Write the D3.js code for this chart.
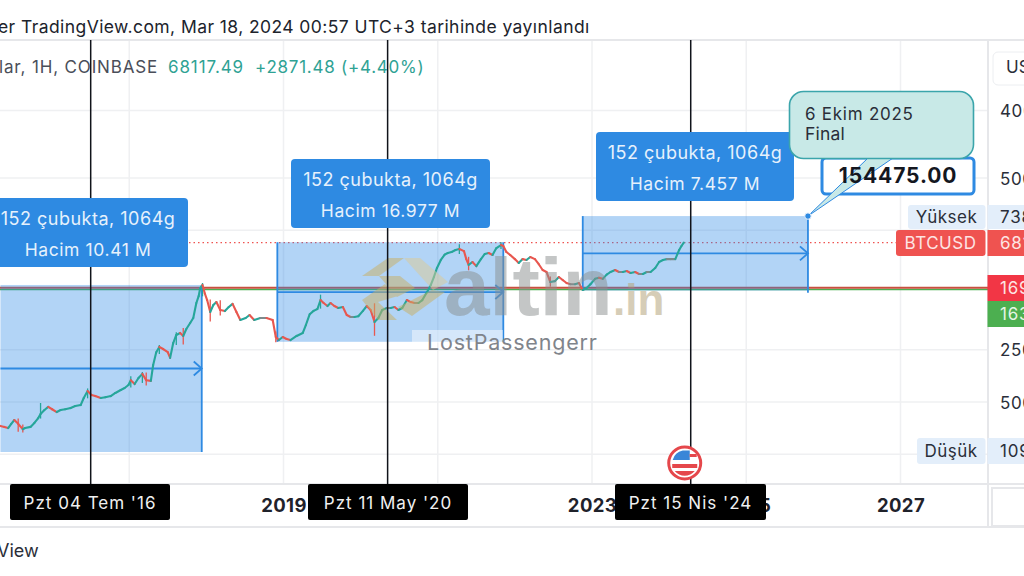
<!DOCTYPE html>
<html><head><meta charset="utf-8">
<script src="https://cdnjs.cloudflare.com/ajax/libs/d3/7.8.5/d3.min.js"></script>
<style>html,body{margin:0;padding:0;background:#fff;overflow:hidden}svg{display:block}text{font-family:Inter,"Open Sans",sans-serif}</style>
</head><body><svg id="c" width="1024" height="576"></svg>
<script>
const candleYears=[2015.33,2015.38,2015.43,2015.47,2015.51,2015.56,2015.62,2015.65,2015.72,2015.77,2015.82,2015.85,2015.90,2015.95,2016.00,2016.06,2016.11,2016.17,2016.24,2016.30,2016.37,2016.41,2016.46,2016.51,2016.56,2016.63,2016.69,2016.76,2016.82,2016.89,2016.94,2016.99,2017.02,2017.07,2017.12,2017.17,2017.22,2017.28,2017.31,2017.35,2017.39,2017.44,2017.50,2017.53,2017.57,2017.61,2017.66,2017.70,2017.74,2017.79,2017.83,2017.87,2017.90,2017.92,2017.95,2017.98,2018.01,2018.05,2018.09,2018.13,2018.18,2018.24,2018.29,2018.34,2018.39,2018.44,2018.51,2018.56,2018.62,2018.70,2018.78,2018.86,2018.90,2018.94,2018.99,2019.04,2019.09,2019.17,2019.25,2019.29,2019.34,2019.39,2019.44,2019.48,2019.52,2019.57,2019.61,2019.66,2019.71,2019.77,2019.82,2019.87,2019.92,2019.97,2020.03,2020.08,2020.13,2020.18,2020.23,2020.28,2020.34,2020.39,2020.44,2020.49,2020.54,2020.60,2020.65,2020.70,2020.75,2020.80,2020.86,2020.91,2020.95,2020.99,2021.04,2021.09,2021.13,2021.18,2021.23,2021.28,2021.34,2021.37,2021.40,2021.45,2021.50,2021.56,2021.61,2021.66,2021.71,2021.76,2021.82,2021.85,2021.89,2021.94,2022.00,2022.05,2022.10,2022.15,2022.20,2022.26,2022.31,2022.36,2022.41,2022.46,2022.52,2022.57,2022.62,2022.67,2022.72,2022.78,2022.83,2022.88,2022.93,2022.98,2023.04,2023.09,2023.14,2023.19,2023.24,2023.30,2023.35,2023.40,2023.45,2023.50,2023.56,2023.61,2023.66,2023.71,2023.76,2023.82,2023.87,2023.92,2023.97,2024.02,2024.08,2024.13,2024.16,2024.19];
const candleClose=[239,232,224,255,287,255,216,224,232,262,305,345,390,430,400,367,390,400,415,442,455,565,700,620,600,565,580,600,660,724,770,845,980,870,1050,1190,980,960,1565,2320,2730,2560,2320,1950,3080,3950,4200,3830,4750,5715,6670,10590,13100,16800,18460,14200,11600,8020,9950,10900,8530,8270,9360,10300,8020,6270,6670,7310,6270,6670,6670,6270,3710,3380,3710,3490,3380,3830,4200,5370,7500,8300,8800,11600,10590,9650,10590,9650,9070,9360,7310,6875,6875,7050,8300,9650,8530,5900,6670,8530,9070,9070,9360,8530,9070,11600,10900,10590,10590,11600,14800,18460,23600,31200,39900,47000,49500,51000,54250,56000,52500,41000,34400,37500,33000,41000,48000,49500,46500,57700,63300,61400,51000,46500,41000,36350,41000,39900,43700,41000,35000,29300,27550,20200,20800,23600,21500,19600,18900,18900,19600,15800,16800,18900,22300,23000,22300,25400,27550,29300,27550,27550,28400,26700,27550,25900,25900,27550,27550,31200,37500,39900,41000,41000,41000,54250,61400,68117];
const wickYears=[2015.56,2015.62,2015.85,2016.46,2017.02,2017.17,2017.22,2017.39,2017.61,2017.70,2017.95,2018.05,2018.18,2018.90,2019.48,2020.18,2021.28,2021.40,2021.82,2022.46];
const wickHigh=[300,250,485,760,1110,1260,1240,2900,4300,4900,19600,11800,11500,4400,13700,10500,64700,44000,68900,24000];
const wickLow=[200,195,300,560,780,900,830,2200,2900,2950,13000,6000,7200,3150,8900,3850,48000,29000,56000,17500];
const boxYears=[[2015.33,2017.94],[2018.92,2021.85],[2022.88,2025.80]];
const boxTop=[18460,68900,154475];
const boxBottom=[107,3200,15500];
const boxLabels=[["152 çubukta, 1064g","Hacim 10.41 M"],["152 çubukta, 1064g","Hacim 16.977 M"],["152 çubukta, 1064g","Hacim 7.457 M"]];
const crossYears=[2016.50,2020.35,2024.28];
const crossLabels=["Pzt 04 Tem '16","Pzt 11 May '20","Pzt 15 Nis '24"];
const gridYears=[2017,2019,2021,2023,2025,2027];
const yearTicks=[2019,2023,2025,2027];
const priceGrid=[4000000,500000,100000,2500,500,100];
const priceTicks=[4000000,500000,2500,500];
const lastPrice=68117.49, highPrice=73835, lowPrice=109, redLevel=16900, greenLevel=16300, targetPrice=154475;

const x=d3.scaleLinear().domain([2019,2027]).range([283.5,900.5]);
const y=d3.scaleLog().domain([500,500000]).range([402,178]);
const svg=d3.select("#c");
const blue="#2e8ae2";
const T=(s,px,py,o={})=>svg.append("text").attr("x",px).attr("y",py).attr("text-anchor",o.a||"start")
 .attr("font-size",o.s||17).attr("font-weight",o.w||400).attr("fill",o.f||"#2a2e39").attr("letter-spacing",o.l||0).attr("dominant-baseline","central").text(s);

// frame + grid
svg.append("g").selectAll("line").data(priceGrid).join("line").attr("x1",0).attr("x2",988).attr("y1",d=>y(d)).attr("y2",d=>y(d)).attr("stroke","#eff0f2").attr("stroke-width",1.5);
svg.append("g").selectAll("line").data(gridYears).join("line").attr("x1",d=>x(d)).attr("x2",d=>x(d)).attr("y1",40).attr("y2",484).attr("stroke","#eff0f2").attr("stroke-width",1.5);
[[0,40,1024,40],[0,484,1024,484],[0,527,1024,527],[988,40,988,527]].forEach(l=>svg.append("line").attr("x1",l[0]).attr("y1",l[1]).attr("x2",l[2]).attr("y2",l[3]).attr("stroke","#e6e7ea").attr("stroke-width",2));
svg.append("rect").attr("x",993).attr("y",52).attr("width",50).attr("height",33).attr("rx",5).attr("fill","#fff").attr("stroke","#eceef1");
svg.append("rect").attr("x",992).attr("y",488).attr("width",50).attr("height",38).attr("fill","#fff").attr("stroke","#e6e7ea").attr("stroke-width",2);

// levels
svg.append("line").attr("x1",0).attr("x2",988).attr("y1",y(greenLevel)+.6).attr("y2",y(greenLevel)+.6).attr("stroke","#4caf50").attr("stroke-width",1.5);
svg.append("line").attr("x1",0).attr("x2",988).attr("y1",y(redLevel)).attr("y2",y(redLevel)).attr("stroke","#c8503f").attr("stroke-width",2);
svg.append("line").attr("x1",0).attr("x2",896).attr("y1",y(lastPrice)).attr("y2",y(lastPrice)).attr("stroke","#ef5350").attr("stroke-width",1.2).attr("stroke-dasharray","1.5 3");

// boxes
boxYears.forEach((b,i)=>{
 const x0=x(b[0]),x1=x(b[1]),t=y(boxTop[i]),bt=y(boxBottom[i]),m=(t+bt)/2;
 svg.append("rect").attr("x",x0).attr("y",t).attr("width",x1-x0).attr("height",bt-t).attr("fill","rgba(41,136,230,.36)");
 svg.append("line").attr("x1",x0).attr("x2",x1).attr("y1",m).attr("y2",m).attr("stroke",blue).attr("stroke-width",1.8);
 svg.append("path").attr("d",`M${x1-8},${m-7}L${x1},${m}L${x1-8},${m+7}`).attr("fill","none").attr("stroke",blue).attr("stroke-width",1.8);
 svg.append("line").attr("x1",x1).attr("x2",x1).attr("y1",t).attr("y2",bt+ (i==2?2:0)).attr("stroke",blue).attr("stroke-width",1.8);
 if(i>0)svg.append("line").attr("x1",x0).attr("x2",x0).attr("y1",t).attr("y2",bt).attr("stroke",blue).attr("stroke-width",1.8);
});

// candles
const up="#26a69a",dn="#e8574f",flat="#7d8a8c";
const colorAt=yr=>{const i=candleYears.indexOf(yr);return i>0&&candleClose[i]<candleClose[i-1]?dn:up;};
svg.append("g").selectAll("line").data(wickYears).join("line").attr("x1",d=>x(d)).attr("x2",d=>x(d))
 .attr("y1",(d,i)=>y(wickHigh[i])).attr("y2",(d,i)=>y(wickLow[i])).attr("stroke",d=>colorAt(d)).attr("stroke-width",1.3);
svg.append("g").selectAll("line").data(candleClose.slice(1)).join("line")
 .attr("x1",(d,i)=>x(candleYears[i])).attr("x2",(d,i)=>x(candleYears[i+1]))
 .attr("y1",(d,i)=>y(candleClose[i])).attr("y2",d=>y(d))
 .attr("stroke-linecap","round").attr("stroke-width",2.1)
 .attr("stroke",(d,i)=>{const r=d/candleClose[i];return r>1.015?up:(r<.985?dn:flat);});

// watermark
const wm=svg.append("g").attr("opacity",.5);
wm.append("path").attr("d","M362,276L388,258L404,258L379,276Z M379,276L400,276L415,288L397,297Z").attr("fill","#c9b063");
wm.append("path").attr("d","M404,258L420,258L448,282L433,290Z").attr("fill","#dccb96");
wm.append("path").attr("d","M362,300L385,284L398,296L378,302L397,320L378,320Z M398,307L432,290L445,292L412,316Z").attr("fill","#c9b063");
svg.append("text").attr("x",444).attr("y",315).attr("font-size",82).attr("font-weight",700).attr("fill","#8a8f8f").attr("opacity",.5).style("font-family","Liberation Sans").text("altin");
svg.append("text").attr("x",613).attr("y",315).attr("font-size",44).attr("font-weight",700).attr("fill","#b6a67e").attr("opacity",.55).style("font-family","Liberation Sans").text(".in");
svg.append("rect").attr("x",412).attr("y",330).attr("width",91).attr("height",13).attr("fill","#fff").attr("opacity",.45);
T("LostPassengerr",427,342,{s:21.5,f:"#80848b",l:.8});

// date crosshairs
crossYears.forEach(c=>svg.append("line").attr("x1",x(c)).attr("x2",x(c)).attr("y1",40).attr("y2",484).attr("stroke","#10131a").attr("stroke-width",1.5));

// volume tags
const tagX=[-12,291,596],tagW=[200,199,198],tagY=[198,159,132];
boxLabels.forEach((l,i)=>{
 svg.append("rect").attr("x",tagX[i]).attr("y",tagY[i]).attr("width",tagW[i]).attr("height",69).attr("rx",4).attr("fill",blue);
 T(l[0],tagX[i]+tagW[i]/2,tagY[i]+20,{a:"middle",f:"#e6f1fc",s:18,l:.5});
 T(l[1],tagX[i]+tagW[i]/2,tagY[i]+51,{a:"middle",f:"#e6f1fc",s:17.5,l:.6});
});

// target callout
svg.append("rect").attr("x",822).attr("y",158).attr("width",152).attr("height",36).attr("rx",4).attr("fill","#fff").attr("stroke",blue).attr("stroke-width",3);
svg.append("path").attr("d",`M${x(2025.80)},${y(targetPrice)}L868,158L893,158Z`).attr("fill","#c8e9e7").attr("stroke",blue).attr("stroke-width",1);
svg.append("rect").attr("x",789.5).attr("y",91.5).attr("width",184).attr("height",67).attr("rx",14).attr("fill","#c8e9e7").attr("stroke","#3ba5ab").attr("stroke-width",1.6);
T("6 Ekim 2025",805,114,{s:17,l:.75});
T("Final",805,133,{s:17.5,l:.2});
T(targetPrice.toFixed(2),898,175,{a:"middle",s:21,w:700,f:"#14171f",l:.9});
svg.append("circle").attr("cx",x(2025.80)).attr("cy",y(targetPrice)).attr("r",3.2).attr("fill",blue).attr("stroke","#e6f1fc");

// flag
const fx=x(crossYears[2])-6,fy=463;
svg.append("circle").attr("cx",fx).attr("cy",fy).attr("r",16).attr("fill","#fff").attr("stroke","#e5474b").attr("stroke-width",3);
svg.append("path").attr("d",`M${fx-12},${fy-3}A13,13 0 0 1 ${fx-2},${fy-12.5}L${fx+5},${fy-12.5}L${fx+5},${fy-3}Z`).attr("fill","#3a86d8");
svg.append("rect").attr("x",fx+5).attr("y",fy-9).attr("width",7).attr("height",3).attr("fill","#e5474b");
svg.append("rect").attr("x",fx-12.5).attr("y",fy+1).attr("width",25).attr("height",4).attr("fill","#e5474b");
svg.append("path").attr("d",`M${fx-10},${fy+8}L${fx+10},${fy+8}A13,13 0 0 1 ${fx-10},${fy+8}Z`).attr("fill","#e5474b");

// x axis
const xAxis=d3.axisBottom(x).tickValues(yearTicks).tickFormat(d3.format("d")).tickSize(0);
const gx=svg.append("g").attr("transform","translate(0,484)").call(xAxis);
gx.select(".domain").remove();
gx.selectAll("text").attr("y",0).attr("dy",21).attr("dominant-baseline","central").attr("font-size",18.5).attr("font-weight",700).attr("fill","#1f222b").attr("letter-spacing",.4);

const timeX=[10,308,615],timeW=[160,160,151];
crossLabels.forEach((l,i)=>{
 svg.append("rect").attr("x",timeX[i]).attr("y",484).attr("width",timeW[i]).attr("height",36).attr("rx",2).attr("fill","#000");
 T(l,timeX[i]+timeW[i]/2,503,{a:"middle",f:"#f0f0f0",s:17,l:1});
});

// y axis
const yAxis=d3.axisRight(y).tickValues(priceTicks).tickFormat(d3.format(".2f")).tickSize(0);
const gy=svg.append("g").attr("transform","translate(988,0)").call(yAxis);
gy.select(".domain").remove();
gy.selectAll("text").attr("x",12).attr("dy",0).attr("dominant-baseline","central").attr("font-size",17).attr("letter-spacing",.6).attr("fill","#2a2e39");

const side=(lab,val,cy,h,lx,bgL,bgV,fL,fV)=>{
 if(lab){svg.append("rect").attr("x",lx).attr("y",cy-h/2).attr("width",985.5-lx).attr("height",h).attr("rx",3).attr("fill",bgL);
  T(lab,(lx+985)/2,cy,{a:"middle",f:fL,s:17,l:.5});}
 svg.append("rect").attr("x",987.5).attr("y",cy-h/2).attr("width",50).attr("height",h).attr("fill",bgV);
 T(val,1000,cy,{f:fV,s:17,l:.8});
};
side("Yüksek",highPrice.toFixed(2),217,24,908,"#e3eefa","#e3eefa","#2a2e39","#2a2e39");
side("BTCUSD",lastPrice.toFixed(2),243,26,896,"#ef5350","#ef5350","#fde4e3","#fde4e3");
side(null,redLevel.toFixed(2),288,26,0,"","#f23645","","#fde4e3");
side(null,greenLevel.toFixed(2),314,26,0,"","#4caf50","","#e4f5e5");
side("Düşük",lowPrice.toFixed(2),451,26,917,"#e3eefa","#e3eefa","#2a2e39","#2a2e39");

// headers
T("er TradingView.com, Mar 18, 2024 00:57 UTC+3 tarihinde yayınlandı",-2,26,{s:17.5,f:"#20232c",l:.42});
T("lar, 1H, COINBASE",-1,67,{s:17,f:"#4a4e59",l:.85});
T(lastPrice.toFixed(2),168,67,{s:17,f:"#2fa294",l:.9});
T("+2871.48 (+4.40%)",255,67,{s:17,f:"#2fa294",l:.75});
T("USD",1006,67,{s:17,f:"#2a2e39"});
T("View",-3,550,{s:18,f:"#2a2e39"});
</script></body></html>
